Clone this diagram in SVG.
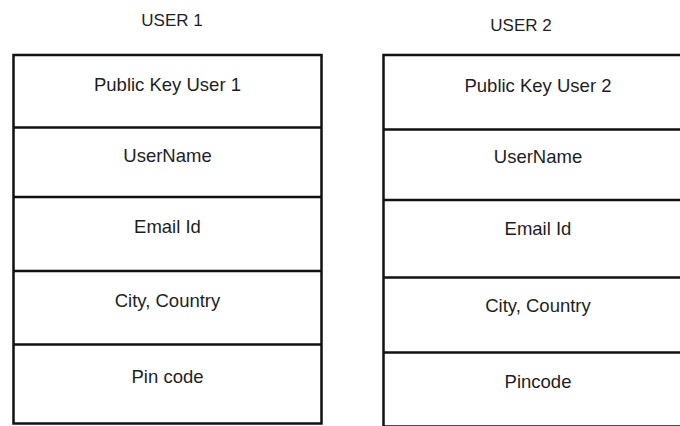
<svg xmlns="http://www.w3.org/2000/svg" width="680" height="426" viewBox="0 0 680 426">
  <style>
    .box { fill: #ffffff; stroke: #111111; stroke-width: 2.5; }
    .sep { stroke: #111111; stroke-width: 2.5; }
    .lbl { font-family: "Liberation Sans", Arial, sans-serif; font-size: 18.5px; fill: #1e1e1e; text-anchor: middle; }
    .ttl { font-family: "Liberation Sans", Arial, sans-serif; font-size: 17px; fill: #1e1e1e; text-anchor: middle; }
  </style>
  <rect width="680" height="426" fill="#ffffff"/>

  <!-- User 1 record -->
  <g id="user1">
    <text class="ttl" x="172" y="26.3">USER 1</text>
    <rect class="box" x="13.5" y="55" width="308" height="368.5"/>
    <line class="sep" x1="13.5" y1="127.5" x2="321.5" y2="127.5"/>
    <line class="sep" x1="13.5" y1="197" x2="321.5" y2="197"/>
    <line class="sep" x1="13.5" y1="271" x2="321.5" y2="271"/>
    <line class="sep" x1="13.5" y1="344.5" x2="321.5" y2="344.5"/>
    <text class="lbl" x="167.5" y="90.7">Public Key User 1</text>
    <text class="lbl" x="167.5" y="161.7">UserName</text>
    <text class="lbl" x="167.5" y="233">Email Id</text>
    <text class="lbl" x="167.5" y="307.3">City, Country</text>
    <text class="lbl" x="167.5" y="382.7">Pin code</text>
  </g>

  <!-- User 2 record -->
  <g id="user2">
    <text class="ttl" x="521" y="30.5">USER 2</text>
    <rect class="box" x="383.5" y="55" width="310" height="371.5"/>
    <line class="sep" x1="383.5" y1="129.5" x2="693.5" y2="129.5"/>
    <line class="sep" x1="383.5" y1="200" x2="693.5" y2="200"/>
    <line class="sep" x1="383.5" y1="277.5" x2="693.5" y2="277.5"/>
    <line class="sep" x1="383.5" y1="352.5" x2="693.5" y2="352.5"/>
    <text class="lbl" x="538" y="91.7">Public Key User 2</text>
    <text class="lbl" x="538" y="163.3">UserName</text>
    <text class="lbl" x="538" y="235">Email Id</text>
    <text class="lbl" x="538" y="311.7">City, Country</text>
    <text class="lbl" x="538" y="388.3">Pincode</text>
  </g>

  <g id="connectors"/>
</svg>
